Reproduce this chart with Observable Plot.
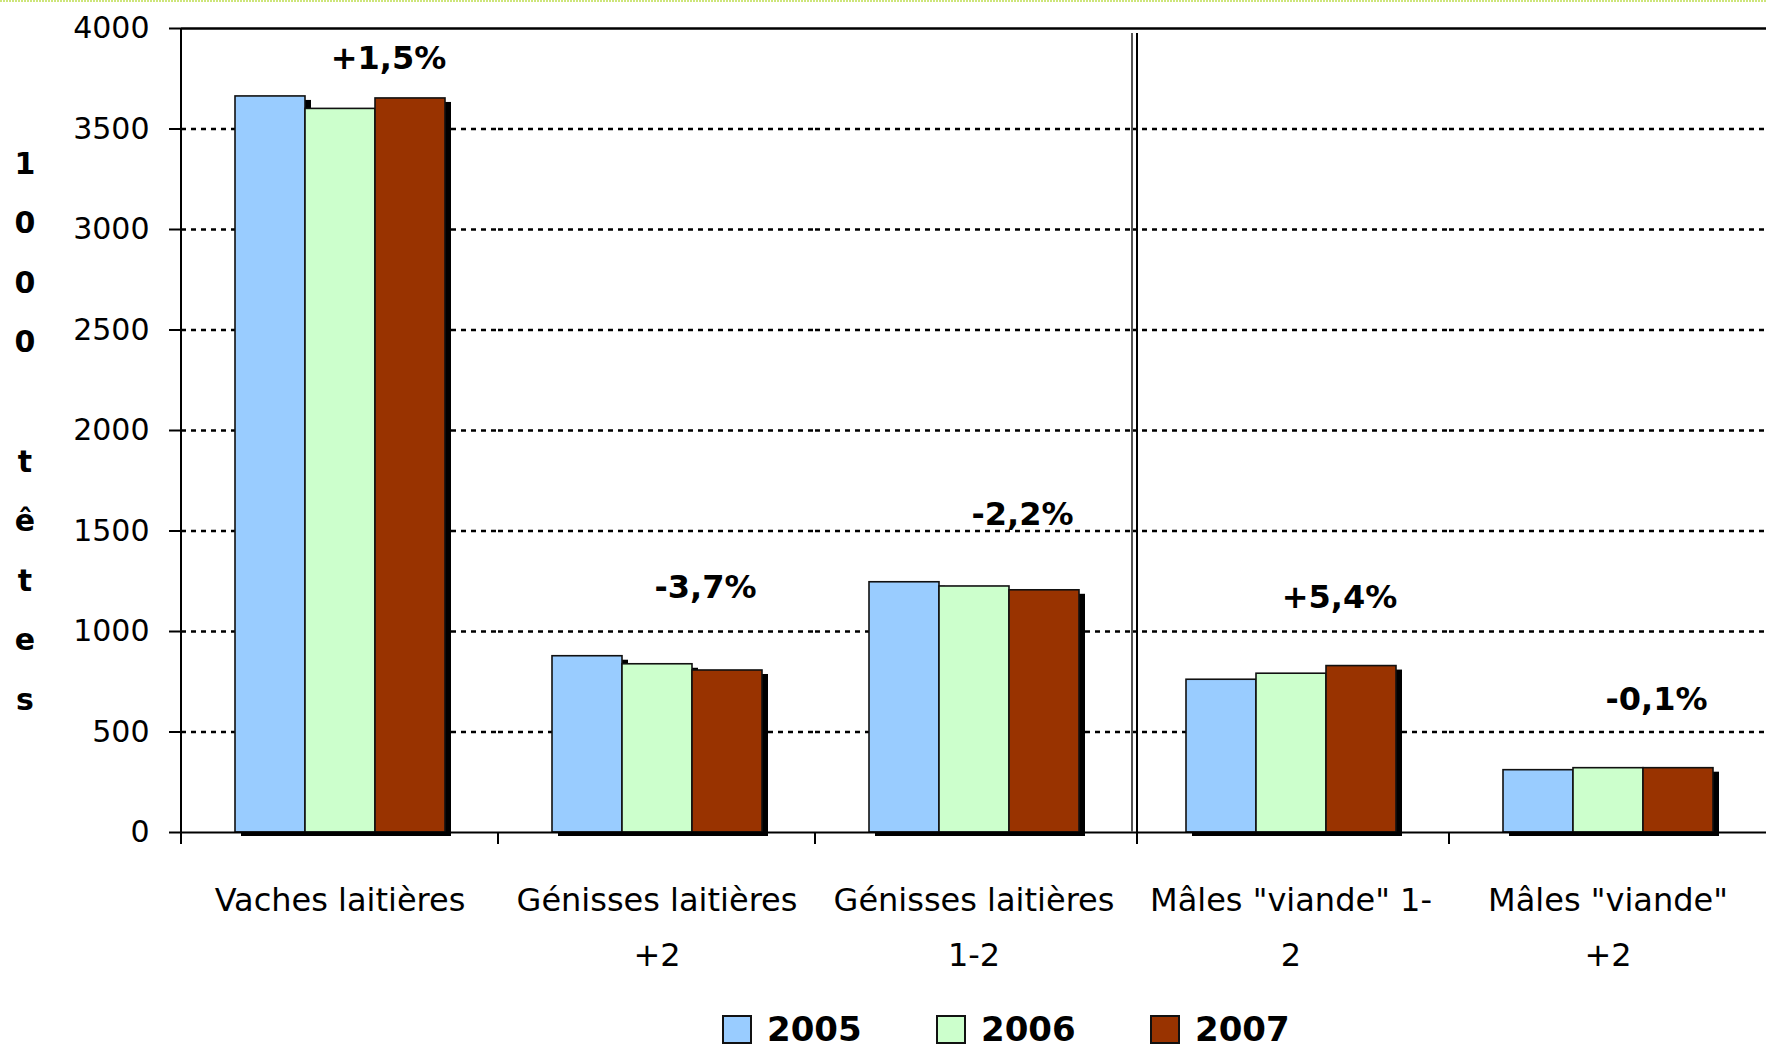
<!DOCTYPE html>
<html>
<head>
<meta charset="utf-8">
<script src="https://cdn.jsdelivr.net/npm/d3@7"></script>
<script src="https://cdn.jsdelivr.net/npm/@observablehq/plot@0.6"></script>
<style>
  html, body { margin: 0; padding: 0; background: #fff; }
  body { font-family: "DejaVu Sans", sans-serif; color: #000; }
  #wrap { position: relative; width: 1767px; height: 1048px; overflow: hidden; background: #fff; }
  #chart svg { display: block; }
  #legend { position: absolute; left: 722px; top: 1010px; height: 38px; display: flex; align-items: center; }
  .item { display: flex; align-items: center; width: 214px; height: 38px; }
  .sw { width: 26px; height: 25px; border: 2px solid #111; box-sizing: content-box; margin-right: 15px; }
  .lab { font-weight: bold; font-size: 34px; line-height: 38px; white-space: nowrap; }
</style>
</head>
<body>
<div id="wrap">
  <div id="chart"></div>
  <div id="legend"></div>
</div>
<script>
// ---- data ----
const categories = [
  "Vaches laitières",
  "Génisses laitières\n+2",
  "Génisses laitières\n1-2",
  "Mâles \"viande\" 1-\n2",
  "Mâles \"viande\"\n+2"
];
const years = ["2005", "2006", "2007"];
const v2005 = [3662, 877, 1245, 760, 310];
const v2006 = [3600, 837, 1224, 790, 320];
const v2007 = [3652, 806, 1205, 828, 320];
const pctLabels = ["+1,5%", "-3,7%", "-2,2%", "+5,4%", "-0,1%"];
const yTicks = [0, 500, 1000, 1500, 2000, 2500, 3000, 3500, 4000];
const gridValues = [500, 1000, 1500, 2000, 2500, 3000, 3500];
const colors = ["#99CCFF", "#CCFFCC", "#993300"];
const yTitle = "1000 têtes";

const series = [v2005, v2006, v2007];
const rows = categories.flatMap((c, i) => years.map((yr, j) => ({cat: c, year: yr, value: series[j][i]})));
const pct = categories.map((c, i) => ({cat: c, label: pctLabels[i], top: Math.max(v2005[i], v2006[i], v2007[i])}));

const font = "DejaVu Sans, sans-serif";
const pctOpts = {fx: "cat", x: () => years[2], y: "top", text: "label", dx: -22,
  fontSize: 32, fontWeight: "bold", fill: "black", fontFamily: font};

const plot = Plot.plot({
  width: 1767, height: 1000,
  marginLeft: 180, marginRight: 0, marginTop: 28, marginBottom: 168,
  style: {fontFamily: font, fontSize: "30px", color: "black", background: "white", overflow: "visible"},
  fx: {domain: categories, padding: 0, label: null},
  x: {domain: years, paddingInner: 0, paddingOuter: 0.745, axis: null},
  y: {domain: [0, 4000]},
  color: {domain: years, range: colors},
  marks: [
    Plot.ruleY(gridValues, {stroke: "black", strokeWidth: 2.5, strokeDasharray: "5,5"}),
    Plot.ruleY([4000], {stroke: "black", strokeWidth: 2.5}),
    Plot.barY(rows, {fx: "cat", x: "year", y: "value", fill: "black", dx: 6, dy: 4}),
    Plot.barY(rows, {fx: "cat", x: "year", y: "value", fill: "year", stroke: "#111", strokeWidth: 1.6}),
    Plot.ruleY([0], {stroke: "black", strokeWidth: 2}),
    Plot.axisY({ticks: yTicks, tickSize: 12, tickPadding: 20, fontSize: 30, strokeWidth: 2,
      tickFormat: d => String(d), label: null}),
    Plot.axisFx({anchor: "bottom", tickSize: 0, tickPadding: 39, fontSize: 32, lineHeight: 1.72, label: null}),
    Plot.text(pct.slice(0, 1), {...pctOpts, dy: -38}),
    Plot.text(pct.slice(1), {...pctOpts, dy: -68})
  ]
});
document.getElementById("chart").appendChild(plot);

// ---- decorations built from the library's scales ----
const fx = plot.scale("fx");
const ys = plot.scale("y");
const y0 = ys.apply(0), yTop = ys.apply(4000);
const svg = d3.select(plot);
const g = svg.append("g").attr("stroke", "black").attr("stroke-width", 2);
const xLeft = fx.apply(categories[0]);
g.append("line").attr("x1", xLeft).attr("x2", xLeft).attr("y1", yTop).attr("y2", y0 + 12);
categories.forEach((c, i) => {
  if (i === 0) return;
  const xb = fx.apply(c) + (i === 3 ? 5 : 0);
  g.append("line").attr("x1", xb).attr("x2", xb).attr("y1", y0).attr("y2", y0 + 12);
});
// double separator line
const xs = fx.apply(categories[3]);
g.append("line").attr("x1", xs).attr("x2", xs).attr("y1", yTop + 5).attr("y2", y0).attr("stroke", "#555");
g.append("line").attr("x1", xs + 5).attr("x2", xs + 5).attr("y1", yTop + 5).attr("y2", y0);
// dotted top border
svg.append("line").attr("x1", 0).attr("x2", 1767).attr("y1", 1).attr("y2", 1)
  .attr("stroke", "#cde57a").attr("stroke-width", 2).attr("stroke-dasharray", "2,1");
// stacked y title
const t = svg.append("text").attr("font-family", font).attr("font-weight", "bold")
  .attr("font-size", 30).attr("text-anchor", "middle").attr("fill", "black");
[...yTitle].forEach((ch, i) => {
  if (ch === " ") return;
  t.append("tspan").attr("x", 25).attr("y", 163 + i * 59.6).attr("dy", "0.35em").text(ch);
});

// ---- legend ----
const leg = document.getElementById("legend");
years.forEach((yr, j) => {
  const it = document.createElement("div"); it.className = "item";
  const sw = document.createElement("div"); sw.className = "sw"; sw.style.background = colors[j];
  const lb = document.createElement("div"); lb.className = "lab"; lb.textContent = yr;
  it.appendChild(sw); it.appendChild(lb); leg.appendChild(it);
});
</script>
</body>
</html>
